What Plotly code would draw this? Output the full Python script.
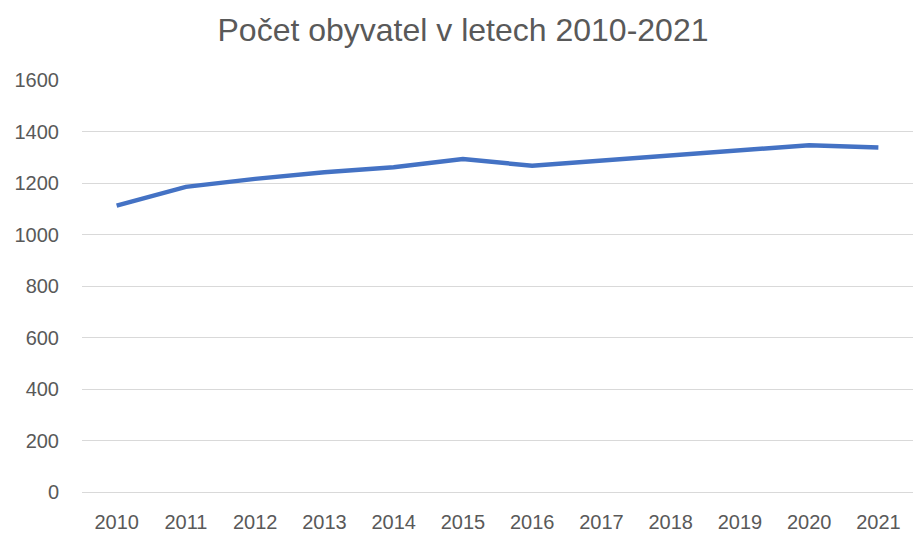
import plotly.graph_objects as go

years = ["2010", "2011", "2012", "2013", "2014", "2015", "2016", "2017", "2018", "2019", "2020", "2021"]
population = [1112, 1185, 1216, 1242, 1261, 1293, 1267, 1287, 1308, 1325, 1347, 1338]
y_ticks = [0, 200, 400, 600, 800, 1000, 1200, 1400, 1600]

fig = go.Figure()
fig.add_trace(go.Scatter(
    x=years, y=population, mode="lines",
    line=dict(color="#4472C4", width=4.5),
    hoverinfo="x+y",
))

fig.update_layout(
    width=915, height=535,
    margin=dict(l=82, r=2, t=80, b=39),
    paper_bgcolor="white", plot_bgcolor="white",
    title=dict(text="Počet obyvatel v letech 2010-2021", x=0.506, xanchor="center",
               y=0.944, yanchor="middle",
               font=dict(family="Liberation Sans, Arial, sans-serif", size=32, color="#595959")),
    showlegend=False,
    font=dict(family="Liberation Sans, Arial, sans-serif", size=20, color="#595959"),
)
fig.update_xaxes(type="category", range=[-0.5, 11.5], showgrid=False, showline=False,
                 zeroline=False, ticks="", ticklabelstandoff=16,
                 tickfont=dict(size=20, color="#595959"))
fig.update_yaxes(range=[0, 1600], tickvals=y_ticks, showgrid=True, gridcolor="#D9D9D9",
                 gridwidth=1, zeroline=True, zerolinecolor="#D9D9D9", zerolinewidth=1,
                 showline=False, ticks="", ticklabelstandoff=22,
                 tickfont=dict(size=20, color="#595959"))

fig.write_html("out.html", config={"displayModeBar": False},
               post_script="document.body.style.margin='0';document.body.style.overflow='hidden';")
